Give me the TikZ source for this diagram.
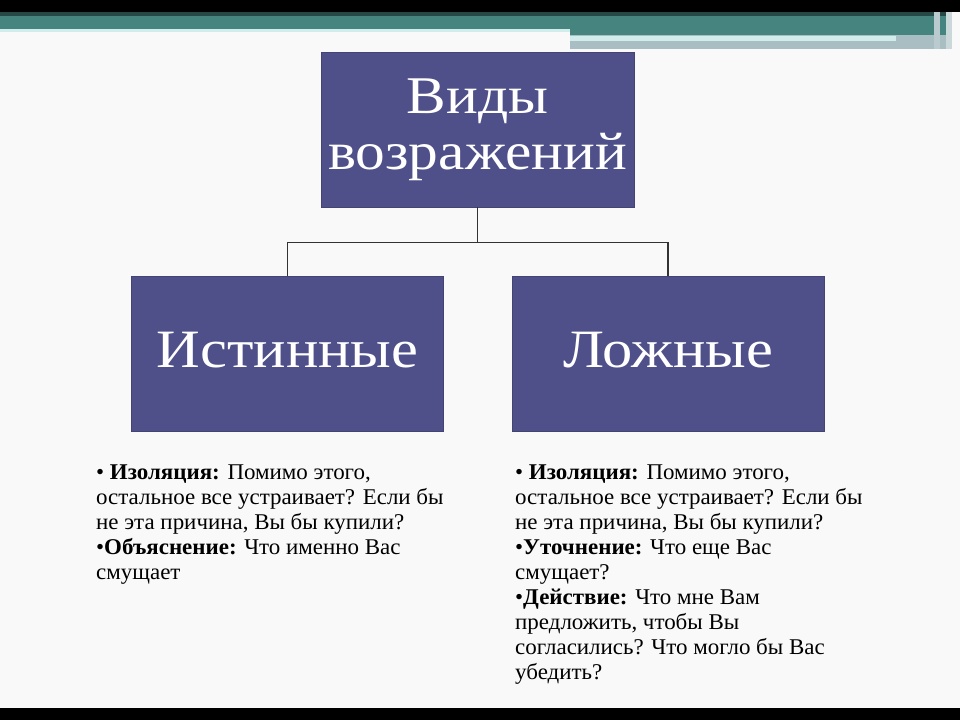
\documentclass[tikz,border=0pt]{standalone}
\usepackage{fontspec}
\setmainfont{Liberation Serif}
\newfontfamily\boxfont[FakeStretch=1.12]{Liberation Serif}
\newfontfamily\notefont[FakeStretch=1.02]{Liberation Serif}
\usetikzlibrary{positioning}
\definecolor{boxblue}{HTML}{4F5089}
\definecolor{barteal}{HTML}{45847F}
\definecolor{barlight}{HTML}{D2ECEB}
\definecolor{bargrey}{HTML}{A8BEC2}
\definecolor{paper}{HTML}{F9F9FA}
\tikzset{
  kindbox/.style={fill=boxblue, draw=boxblue!85!black, text=white,
    minimum width=312pt, minimum height=155pt, inner sep=0pt, align=center},
  link/.style={draw=black!80, line width=1.3pt},
  notes/.style={anchor=north west, inner sep=0pt, align=left,
    font=\notefont\fontsize{22.5}{25}\selectfont},
}
\begin{document}
\begin{tikzpicture}[x=1pt,y=-1pt]
  % Slide background and black frame bars
  \fill[paper] (0,0) rectangle (960,720);
  \fill[black] (0,0) rectangle (960,12);
  \fill[black] (0,708) rectangle (960,720);
  % Header strip
  \fill[bargrey] (570,33) rectangle (952,49);
  \fill[barteal] (0,12) rectangle (570,29);
  \fill[barteal] (570,12) rectangle (952,35);
  \fill[barteal!55!black] (0,12) rectangle (952,16);
  \fill[barlight] (0,29) rectangle (570,32);
  \fill[barlight] (570,36) rectangle (896,41);
  \fill[bargrey!80!white] (934,12) rectangle (940,49);
  \fill[bargrey!60!white] (946,12) rectangle (952,49);

  % Boxes
  \node[kindbox, minimum width=313pt,
    font=\boxfont\fontsize{53}{56}\selectfont] (vidy) at (477.5,129.5) {Виды\\возражений};
  \node[kindbox, text depth=9pt,
    font=\boxfont\fontsize{54}{56}\selectfont] (istin) at (287.5,354) {Истинные};
  \node[kindbox, text depth=9pt,
    font=\boxfont\fontsize{54}{56}\selectfont] (lozh) at (668,354) {Ложные};

  % Connectors
  \coordinate[below=35pt of vidy.south] (fork);
  \draw[link] (vidy.south) -- (fork);
  \draw[link] (istin.north) |- (fork) -| (lozh.north);

  % Notes under the boxes
  \node[notes] (istinlist) at (96,465) {%
    • \textbf{Изоляция:} Помимо этого,\\
    остальное все устраивает? Если бы\\
    не эта причина, Вы бы купили?\\
    •\textbf{Объяснение:} Что именно Вас\\
    смущает};
  \node[notes] (lozhlist) at (515,465) {%
    • \textbf{Изоляция:} Помимо этого,\\
    остальное все устраивает? Если бы\\
    не эта причина, Вы бы купили?\\
    •\textbf{Уточнение:} Что еще Вас\\
    смущает?\\
    •\textbf{Действие:} Что мне Вам\\
    предложить, чтобы Вы\\
    согласились? Что могло бы Вас\\
    убедить?};
\end{tikzpicture}
\end{document}
